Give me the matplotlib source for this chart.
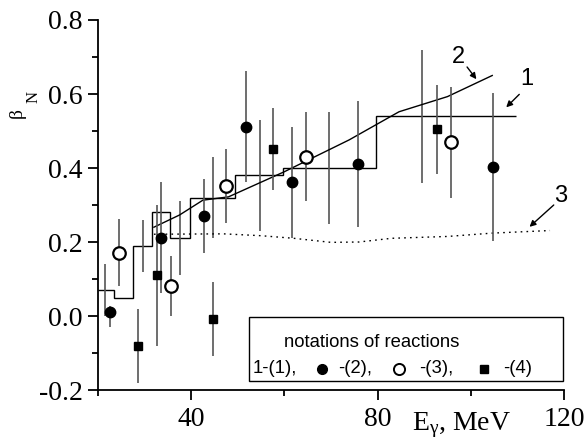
import matplotlib
matplotlib.use("Agg")
import matplotlib.pyplot as plt
from matplotlib.lines import Line2D
from matplotlib.offsetbox import (TextArea, DrawingArea, HPacker, VPacker,
                                  AnchoredOffsetbox)

serif = 'Liberation Serif'
sans = 'Liberation Sans'
plt.rcParams['font.family'] = [serif, 'DejaVu Serif']
plt.rcParams['mathtext.fontset'] = 'custom'
plt.rcParams['mathtext.rm'] = serif
plt.rcParams['mathtext.it'] = serif
plt.rcParams['mathtext.default'] = 'regular'

# ---- data ----
# reaction (1): histogram
hist_edges = [20, 23.5, 27.5, 31.5, 35.5, 39.7, 49.5, 59.6, 79.6, 109.8]
hist_vals = [0.07, 0.05, 0.19, 0.28, 0.21, 0.32, 0.38, 0.40, 0.54]
hist_err_x = [21.5, 29.6, 37.6, 44.7, 54.7, 69.6, 89.6]
hist_err_y = [0.07, 0.19, 0.21, 0.32, 0.38, 0.40, 0.54]
hist_err = [0.07, 0.07, 0.10, 0.11, 0.15, 0.15, 0.18]

# reaction (2): filled circles
r2_x = [22.5, 33.6, 42.7, 51.7, 61.6, 75.7, 104.7]
r2_y = [0.011, 0.212, 0.27, 0.512, 0.362, 0.411, 0.403]
r2_lo = [0.04, 0.15, 0.10, 0.15, 0.15, 0.17, 0.20]
r2_hi = [0.015, 0.15, 0.10, 0.15, 0.15, 0.17, 0.20]

# reaction (3): open circles
r3_x = [24.5, 35.6, 47.5, 64.6, 95.7]
r3_y = [0.171, 0.081, 0.352, 0.431, 0.47]
r3_err = [0.09, 0.08, 0.10, 0.12, 0.15]

# reaction (4): squares
r4_x = [28.5, 32.6, 44.6, 57.6, 92.7]
r4_y = [-0.08, 0.11, -0.009, 0.451, 0.505]
r4_err = [0.10, 0.19, 0.10, 0.11, 0.12]

# curve 2 (solid)
c2_x = [32.0, 37.5, 42.5, 48.0, 60.0, 73.9, 84.6, 95.0, 104.6]
c2_y = [0.24, 0.273, 0.313, 0.322, 0.39, 0.476, 0.552, 0.593, 0.65]

# curve 3 (dotted)
c3_x = [32.0, 47.0, 55.0, 62.0, 70.0, 76.0, 83.0, 95.0, 104.6, 117.0]
c3_y = [0.221, 0.222, 0.217, 0.21, 0.199, 0.20, 0.21, 0.215, 0.224, 0.231]

x_major = [40, 80, 120]
x_minor = [20, 60, 100]
y_major = [-0.2, 0.0, 0.2, 0.4, 0.6, 0.8]
y_minor = [-0.1, 0.1, 0.3, 0.5, 0.7]
y_labels = ['-0.2', '0.0', '0.2', '0.4', '0.6', '0.8']

barc = '#555555'

fig = plt.figure(figsize=(5.87, 4.44), dpi=100)
ax = fig.add_axes([98/587, 54/444, 466/587, 370/444])

ax.stairs(hist_vals, hist_edges, color='black', lw=1.0, baseline=None)
ax.errorbar(hist_err_x, hist_err_y, yerr=hist_err, fmt='none',
            ecolor=barc, elinewidth=1.2, capsize=0)

ax.plot(c2_x, c2_y, color='black', lw=1.0)
ax.plot(c3_x, c3_y, color='black', lw=1.0, linestyle=(0, (1.2, 3)))

ax.errorbar(r2_x, r2_y, yerr=[r2_lo, r2_hi], fmt='o', color='black',
            ms=7.5, ecolor=barc, elinewidth=1.2, capsize=0, zorder=4)
ax.errorbar(r3_x, r3_y, yerr=r3_err, fmt='o', mfc='white', mec='black',
            mew=1.6, ms=9, ecolor=barc, elinewidth=1.2, capsize=0, zorder=4)
ax.errorbar(r4_x, r4_y, yerr=r4_err, fmt='s', color='black',
            ms=6, ecolor=barc, elinewidth=1.2, capsize=0, zorder=4)

ax.set_xlim(20, 120)
ax.set_ylim(-0.2, 0.8)
ax.set_xticks(x_major)
ax.set_xticks(x_minor, minor=True)
ax.set_yticks(y_major)
ax.set_yticklabels(y_labels)
ax.set_yticks(y_minor, minor=True)
for s in ['top', 'right']:
    ax.spines[s].set_visible(False)
for s in ['left', 'bottom']:
    ax.spines[s].set_linewidth(1.3)
ax.tick_params(axis='both', which='major', length=7, width=1.3,
               labelsize=20, direction='out')
ax.tick_params(axis='both', which='minor', length=4, width=1.3,
               direction='out')
ax.tick_params(axis='x', which='major', pad=5)
ax.tick_params(axis='y', which='major', pad=4)

# axis labels
ax.text(-0.174, 0.749, 'β', rotation=90, transform=ax.transAxes,
        ha='center', va='center', fontsize=14)
ax.text(-0.139, 0.792, 'N', rotation=90, transform=ax.transAxes,
        ha='center', va='center', fontsize=12)
ax.text(0.78, -0.095, r'E$_\gamma$, MeV', transform=ax.transAxes,
        ha='center', va='center', fontsize=20)

# annotations
arw = dict(arrowstyle='-|>', color='black', lw=1.0, mutation_scale=9,
           shrinkA=0, shrinkB=0)
ax.text(97.4, 0.70, '2', fontsize=17, family=sans, ha='center', va='center')
ax.annotate('', xy=(101.2, 0.64), xytext=(99.2, 0.673), arrowprops=arw)
ax.text(112.0, 0.64, '1', fontsize=17, family=sans, ha='center', va='center')
ax.annotate('', xy=(107.6, 0.564), xytext=(110.4, 0.599), arrowprops=arw)
ax.text(119.2, 0.325, '3', fontsize=17, family=sans, ha='center',
        va='center', clip_on=False)
ax.annotate('', xy=(112.6, 0.241), xytext=(117.8, 0.30), arrowprops=arw,
            annotation_clip=False)

# legend box (manual)
lfs = 13.3
tp = dict(fontsize=lfs, family=sans)


def glyph(**kw):
    da = DrawingArea(10, 10, 0, 0)
    da.add_artist(Line2D([5], [5], linestyle='none', **kw))
    return da


def spacer(w, h=1):
    return DrawingArea(w, h, 0, 0)


title = HPacker(children=[spacer(22), TextArea('notations of reactions',
                                               textprops=tp)],
                sep=0, align='center')
row = HPacker(children=[
    TextArea('1-(1),', textprops=tp), spacer(13),
    glyph(marker='o', color='black', ms=7), spacer(6),
    TextArea('-(2),', textprops=tp), spacer(15),
    glyph(marker='o', mfc='white', mec='black', mew=1.4, ms=8), spacer(9),
    TextArea('-(3),', textprops=tp), spacer(17),
    glyph(marker='s', color='black', ms=5.5), spacer(9),
    TextArea('-(4)', textprops=tp),
    spacer(19)], sep=0, align='center')
box = VPacker(children=[spacer(1, 2), title, row], sep=7, align='left')
anch = AnchoredOffsetbox(loc='upper left', child=box, pad=0.22,
                         borderpad=0, frameon=True,
                         bbox_to_anchor=(0.324, 0.197),
                         bbox_transform=ax.transAxes,
                         prop=dict(size=lfs))
anch.patch.set_boxstyle('square', pad=0)
anch.patch.set_edgecolor('black')
anch.patch.set_linewidth(1.0)
ax.add_artist(anch)

fig.savefig('out.png', dpi=100)
